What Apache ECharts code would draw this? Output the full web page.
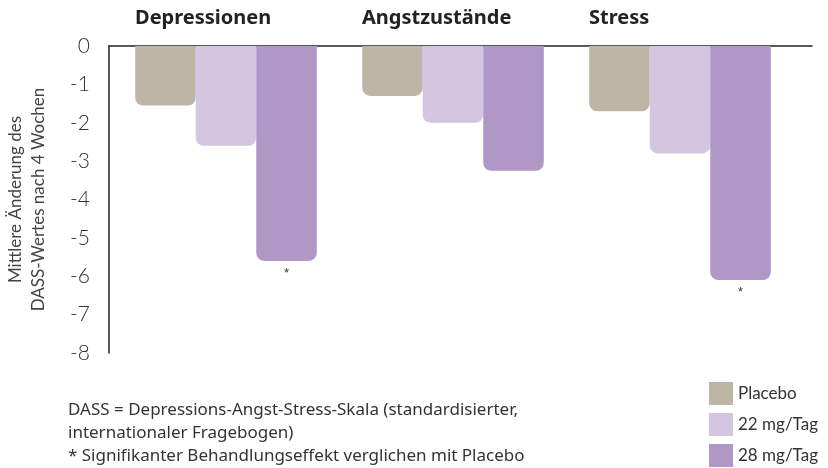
<!DOCTYPE html>
<html lang="de">
<head>
<meta charset="UTF-8">
<title>DASS</title>
<script src="https://cdn.jsdelivr.net/npm/echarts@6/dist/echarts.min.js"></script>
</head>
<body style="margin:0">
<div id="main" style="width:828px;height:468px;"></div>
<script>
var categories = ['Depressionen', 'Angstzustände', 'Stress'];
var placebo = [-1.55, -1.3, -1.7];
var mg22 = [-2.6, -2.0, -2.8];
var mg28 = [-5.6, -3.25, -6.1];
var sig28 = [true, false, true];
var seriesNames = ['Placebo', '22 mg/Tag', '28 mg/Tag'];
var colors = ['#bdb6a7', '#d4c6e0', '#b097c6'];
var yTicks = [0, -1, -2, -3, -4, -5, -6, -7, -8];

var font = 'Lato, "Noto Sans", sans-serif';

function makeBar(name, values, color, sig) {
    return {
        name: name,
        type: 'bar',
        xAxisIndex: 1,
        yAxisIndex: 1,
        barGap: 0,
        barCategoryGap: '20%',
        itemStyle: { color: color, borderRadius: [0, 0, 8, 8] },
        data: values.map(function (v, i) {
            return {
                value: v,
                label: {
                    show: !!(sig && sig[i]),
                    position: 'bottom',
                    distance: 6,
                    formatter: '*',
                    color: '#333',
                    fontSize: 13
                }
            };
        })
    };
}

var myChart = echarts.init(document.getElementById('main'));
myChart.setOption({
    color: colors,
    animation: false,
    grid: [
        { left: 109, right: 16, top: 46, bottom: 115, outerBoundsMode: 'none' },
        { left: 112.5, width: 681, top: 46, bottom: 115, outerBoundsMode: 'none' }
    ],
    legend: {
        orient: 'vertical',
        left: 709,
        top: 382,
        padding: 0,
        itemWidth: 24,
        itemHeight: 23,
        itemGap: 8,
        icon: 'rect',
        data: seriesNames,
        textStyle: { fontFamily: font, fontSize: 17, color: '#333' }
    },
    xAxis: [{
        gridIndex: 0,
        type: 'category',
        data: [],
        axisLine: { lineStyle: { color: '#222', width: 1.5 } },
        axisTick: { show: false },
        axisLabel: { show: false }
    }, {
        gridIndex: 1,
        type: 'category',
        position: 'top',
        data: categories,
        axisLine: { show: false },
        axisTick: { show: false },
        axisLabel: {
            margin: 18,
            formatter: function (v) { return '{a|' + v + '}'; },
            rich: {
                a: {
                    width: 182,
                    align: 'left',
                    fontFamily: '"Noto Sans", sans-serif',
                    fontWeight: 'bold',
                    fontSize: 20,
                    color: '#222'
                }
            }
        }
    }],
    yAxis: [{
        gridIndex: 0,
        type: 'value',
        min: -8,
        max: 0,
        interval: 1,
        name: 'Mittlere Änderung des\nDASS-Wertes nach 4 Wochen',
        nameLocation: 'middle',
        nameGap: 59,
        nameTextStyle: { fontFamily: font, fontSize: 17, color: '#444', lineHeight: 23 },
        axisLine: { show: true, lineStyle: { color: '#222', width: 1.5 } },
        axisTick: { show: false },
        splitLine: { show: false },
        axisLabel: {
            margin: 19,
            fontFamily: font,
            fontSize: 21,
            fontWeight: 300,
            color: '#333',
            formatter: function (v) { return yTicks.indexOf(v) >= 0 ? String(v) : ''; }
        }
    }, {
        gridIndex: 1,
        type: 'value',
        min: -8,
        max: 0,
        show: false
    }],
    graphic: [{
        type: 'text',
        left: 68,
        top: 399,
        style: {
            text: 'DASS = Depressions-Angst-Stress-Skala (standardisierter,\ninternationaler Fragebogen)\n* Signifikanter Behandlungseffekt verglichen mit Placebo',
            fontFamily: '"Noto Sans", sans-serif',
            fontSize: 17,
            lineHeight: 23,
            fill: '#333'
        }
    }],
    series: [
        makeBar(seriesNames[0], placebo, colors[0]),
        makeBar(seriesNames[1], mg22, colors[1]),
        makeBar(seriesNames[2], mg28, colors[2], sig28)
    ]
});
</script>
</body>
</html>
